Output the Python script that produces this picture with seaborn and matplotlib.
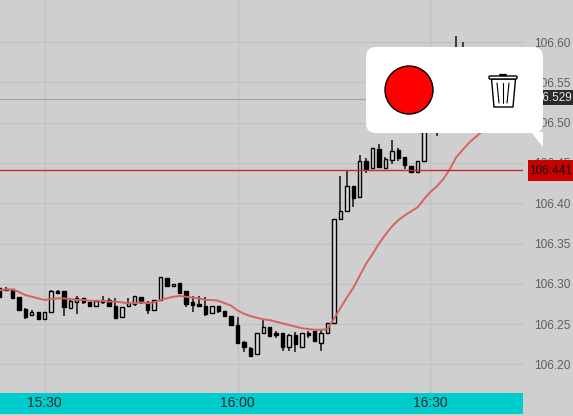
import numpy as np
import pandas as pd
import seaborn as sns
import matplotlib
matplotlib.use('Agg')
import matplotlib.pyplot as plt
from matplotlib.patches import Rectangle, FancyBboxPatch, Polygon, Circle

# minutes from 16:00, one candle per minute
minutes = list(range(-37, 36))
opens = [106.295,106.294,106.293,106.284,106.269,106.261,106.265,106.257,106.265,106.291,
         106.291,106.270,106.278,106.282,106.278,106.273,106.280,106.280,106.273,106.259,
         106.272,106.275,106.284,106.278,106.268,106.280,106.307,106.297,106.301,106.291,
         106.278,106.275,106.273,106.264,106.272,106.266,106.260,106.249,106.228,106.221,
         106.213,106.239,106.247,106.239,106.239,106.222,106.237,106.222,106.239,106.241,
         106.227,106.239,106.251,106.380,106.391,106.422,106.408,106.453,106.444,106.467,
         106.444,106.454,106.466,106.458,106.446,106.439,106.453,106.500,106.490,106.500,
         106.520,106.550,106.590]
closes = [106.284,106.292,106.282,106.267,106.259,106.265,106.256,106.265,106.291,106.289,
          106.271,106.279,106.282,106.278,106.272,106.279,106.277,106.272,106.258,106.271,
          106.276,106.285,106.278,106.268,106.280,106.309,106.297,106.300,106.289,106.275,
          106.274,106.273,106.262,106.273,106.266,106.260,106.249,106.226,106.222,106.211,
          106.239,106.246,106.235,106.236,106.222,106.236,106.225,106.239,106.237,106.229,
          106.239,106.251,106.381,106.391,106.422,106.407,106.453,106.443,106.468,106.445,
          106.455,106.465,106.456,106.447,106.439,106.453,106.500,106.490,106.500,106.520,
          106.550,106.590,106.585]
highs = [106.295,106.296,106.293,106.284,106.270,106.268,106.265,106.265,106.292,106.292,
         106.291,106.282,106.285,106.282,106.278,106.279,106.285,106.282,106.282,106.271,
         106.282,106.285,106.284,106.279,106.280,106.309,106.307,106.300,106.301,106.291,
         106.285,106.285,106.284,106.273,106.272,106.266,106.260,106.259,106.229,106.222,
         106.239,106.255,106.247,106.242,106.239,106.238,106.240,106.239,106.241,106.241,
         106.243,106.251,106.381,106.434,106.441,106.422,106.460,106.456,106.468,106.474,
         106.458,106.478,106.468,106.458,106.446,106.453,106.500,106.505,106.510,106.525,
         106.555,106.607,106.600]
lows = [106.284,106.292,106.282,106.267,106.256,106.261,106.256,106.257,106.265,106.289,
        106.260,106.270,106.263,106.275,106.272,106.273,106.275,106.272,106.258,106.259,
        106.272,106.273,106.275,106.263,106.267,106.280,106.297,106.297,106.289,106.271,
        106.265,106.273,106.260,106.264,106.264,106.260,106.249,106.226,106.215,106.210,
        106.213,106.239,106.234,106.233,106.217,106.217,106.215,106.222,106.233,106.229,
        106.217,106.239,106.251,106.380,106.389,106.395,106.407,106.438,106.444,106.445,
        106.443,106.449,106.453,106.442,106.439,106.439,106.453,106.488,106.483,106.495,
        106.515,106.545,106.580]

ma_minutes = list(range(-37, 39))
ma_values = [106.292,106.293,106.293,106.290,106.286,106.284,106.282,106.280,106.281,106.282,
             106.282,106.281,106.280,106.280,106.279,106.279,106.279,106.278,106.278,106.277,
             106.276,106.276,106.277,106.276,106.277,106.280,106.282,106.284,106.285,106.284,
             106.283,106.282,106.280,106.280,106.279,106.276,106.273,106.267,106.263,106.260,
             106.258,106.256,106.255,106.253,106.251,106.249,106.247,106.245,106.244,106.243,
             106.243,106.244,106.257,106.270,106.283,106.295,106.310,106.325,106.337,106.350,
             106.361,106.371,106.379,106.385,106.390,106.395,106.405,106.414,106.421,106.430,
             106.442,106.457,106.466,106.475,106.482,106.489]

x_ticks = [-30, 0, 30]
x_labels = ['15:30', '16:00', '16:30']
y_ticks = [106.20,106.25,106.30,106.35,106.40,106.45,106.50,106.55,106.60]
last_price = 106.441
other_price = 106.529

bg = '#cfcfcf'
W, H = 573, 416
sns.set_theme(style='white')
plt.rcParams['font.family'] = ['Liberation Sans', 'DejaVu Sans']

fig = plt.figure(figsize=(W / 100, H / 100), dpi=100, facecolor=bg)
ax = fig.add_axes([0, 1 - 392.5 / H, 523 / W, 392.5 / H], facecolor=bg)

# cyan time strip sits under the axes so the tick labels stay on top
fig.add_artist(Rectangle((0, 1 - 414 / H), 523 / W, 21.5 / H, transform=fig.transFigure,
                         facecolor='#00cbcd', edgecolor='none', zorder=-1))

ax.set_xlim(-36.95, 44.4)
ax.set_ylim(106.1652, 106.6522)
ax.set_xticks(x_ticks)
ax.set_xticklabels(x_labels)
ax.set_yticks(y_ticks)
ax.set_yticklabels(['%.2f' % v for v in y_ticks])
ax.yaxis.tick_right()
ax.tick_params(axis='x', length=0, pad=2.5, labelsize=10, labelcolor='#2a2a2a')
ax.tick_params(axis='y', length=0, pad=8, labelsize=8.6, labelcolor='#5e5e5e')
ax.grid(True, color='#c2c2c2', lw=1)
ax.set_axisbelow(True)
for s in ax.spines.values():
    s.set_visible(False)

ax.axhline(other_price, color='#a0a8a0', lw=0.8, zorder=1)

for m, o, c, h, l in zip(minutes, opens, closes, highs, lows):
    ax.vlines(m, l, h, color='#222222', lw=1.2, zorder=2)
    up = c >= o
    ax.bar(m, abs(c - o), bottom=min(o, c), width=0.52,
           facecolor='#dadada' if up else 'black', edgecolor='black', lw=1.0, zorder=3)

df = pd.DataFrame({'minute': ma_minutes, 'ma': ma_values})
sns.lineplot(data=df, x='minute', y='ma', color='#d5645c', lw=1.4, estimator=None, ax=ax, zorder=4)
ax.set_xlabel('')
ax.set_ylabel('')

ax.axhline(last_price, color='#c92a2a', lw=1, zorder=5)

# overlay in pixel coordinates: price tags and the popup
ov = fig.add_axes([0, 0, 1, 1], facecolor='none')
ov.set_xlim(0, W)
ov.set_ylim(H, 0)
ov.axis('off')

ov.add_patch(Rectangle((528, 160), 45, 21, facecolor='#c80000', edgecolor='none'))
ov.text(572, 171, '%.3f' % last_price, color='#111111', fontsize=8.5, va='center', ha='right')
ov.add_patch(Rectangle((543, 90), 30, 15, facecolor='#2b2b2b', edgecolor='none'))
ov.text(572, 98, '%.3f' % other_price, color='#e8e8e8', fontsize=8.5, va='center', ha='right')

ov.add_patch(FancyBboxPatch((366, 47), 177, 86, boxstyle='round,pad=0,rounding_size=10',
                            facecolor='white', edgecolor='none', zorder=5))
ov.add_patch(Polygon([(531, 132), (543, 132), (543, 147)], facecolor='white', edgecolor='none', zorder=5))
ov.add_patch(Circle((409, 90), 24, facecolor='#ff0000', edgecolor='black', lw=1, zorder=6))

# trash can
ov.add_patch(Polygon([(491.5, 79), (515.5, 79), (513, 107), (494, 107)], closed=True,
                     facecolor='white', edgecolor='black', lw=1, joinstyle='round', zorder=6))
ov.add_patch(FancyBboxPatch((489, 76), 28, 3, boxstyle='round,pad=0,rounding_size=1',
                            facecolor='white', edgecolor='black', lw=1, zorder=7))
ov.plot([500, 506], [74.5, 74.5], color='black', lw=1.6, zorder=7)
for x0, x1 in [(497, 499), (503, 503), (509, 507)]:
    ov.plot([x0, x1], [83, 103], color='black', lw=0.8, zorder=7)

fig.savefig('out.png', dpi=100, facecolor=bg)
